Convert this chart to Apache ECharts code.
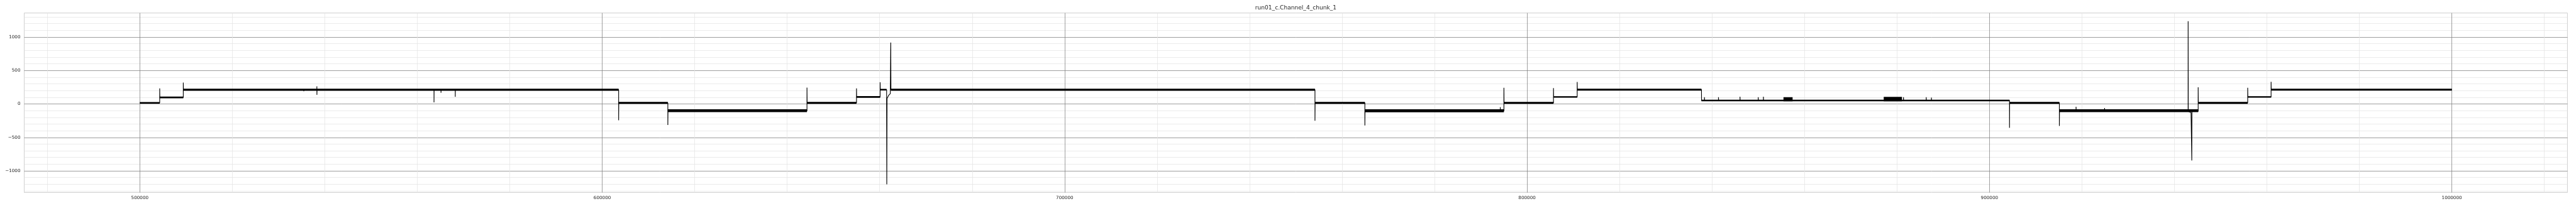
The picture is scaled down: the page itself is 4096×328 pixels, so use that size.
<!DOCTYPE html>
<html>
<head>
<meta charset="utf-8">
<script src="https://cdn.jsdelivr.net/npm/echarts@6.0.0/dist/echarts.min.js"></script>
<style>
  html, body { margin: 0; padding: 0; background: #ffffff; }
  #chart { width: 4096px; height: 328px; }
</style>
</head>
<body>
<div id="chart"></div>
<script>
// ---- data ----
const chartTitle = 'run01_c.Channel_4_chunk_1';

// axis extents (matplotlib 5% margins)
const xRange = [475000, 1025000];
const yRange = [-1324, 1360];

// signal trace: transitions and spikes (x = sample index, y = value)
const traceX = [
  500000, 504300, 504300, 504330, 509400, 509400, 509430,
  535460, 535460, 535480,
  538290, 538290, 538300, 538320,
  563620, 563620, 563640,
  565130, 565130, 565150,
  568220, 568220, 568240,
  603550, 603550, 603580,
  614190, 614190, 614220,
  644280, 644280, 644310,
  654990, 654990, 655020,
  660100, 660100, 660130,
  661500, 661540, 661600, 661950, 662300, 662400, 662440,
  754140, 754140, 754170,
  764930, 764930, 764960,
  794210, 794210, 794230,
  795000, 795000, 795030,
  805720, 805720, 805750,
  810850, 810850, 810880,
  837720, 837740,
  838370, 838370, 838400,
  841400, 841400, 841430,
  846060, 846060, 846090,
  850000, 850000, 850030,
  851120, 851120, 851150,
  881410, 881410, 881440,
  886330, 886330, 886360,
  887450, 887450, 887480,
  904340, 904340, 904370,
  915120, 915120, 915150,
  918730, 918730, 918760,
  924900, 924900, 924930,
  942970, 942970, 943000,
  943600, 943760, 943790,
  945140, 945140, 945170,
  955850, 955850, 955880,
  960910, 960910, 960940,
  1000000
];
const traceY = [
  16, 16, 232, 97, 97, 320, 212,
  212, 190, 212,
  212, 262, 136, 212,
  212, 24, 212,
  212, 167, 212,
  212, 107, 212,
  212, -245, 17,
  17, -314, -102,
  -102, 245, 17,
  17, 233, 105,
  105, 324, 214,
  214, -1202, 83, 130, 154, 919, 214,
  214, -250, 17,
  17, -321, -102,
  -102, -48, -102,
  -102, 243, 17,
  17, 238, 105,
  105, 329, 214,
  214, 52,
  52, 102, 52,
  52, 100, 52,
  52, 107, 52,
  52, 100, 52,
  52, 107, 52,
  52, 100, 52,
  52, 100, 52,
  52, 95, 52,
  52, -357, 17,
  17, -329, -102,
  -102, -43, -102,
  -102, -60, -102,
  -102, 1238, -110,
  -131, -845, -110,
  -110, 248, 17,
  17, 243, 105,
  105, 331, 214,
  214
];

// noise bands of each plateau: start, end, lowest and highest value of the noisy signal
const bandStart = [500000, 504300, 509400, 603550, 614190, 644280, 654990, 660100, 662400, 754140, 764930, 795000, 805720, 810850, 837720, 855460, 877140, 904340, 915120, 945140, 955850, 960910];
const bandEnd   = [504300, 509400, 603550, 614190, 644280, 654990, 660100, 661500, 754140, 764930, 795000, 805720, 810850, 837720, 904340, 857430, 881080, 915120, 945140, 955850, 960910, 1000000];
const bandLow   = [4, 84, 197, 2, -122, 3, 92, 202, 198, 2, -124, 3, 93, 200, 40, 40, 40, 3, -122, 3, 93, 200];
const bandHigh  = [28, 110, 227, 30, -80, 30, 118, 226, 229, 31, -79, 30, 116, 228, 64, 100, 106, 30, -80, 30, 116, 228];

// ---- build ----
const S = 0.758;
const tracePts = traceX.map((x, i) => [x, traceY[i]]);
const bandPts = bandStart.map((x, i) => [x, bandEnd[i], bandLow[i], bandHigh[i]]);

const fmt = v => (v < 0 ? '\u2212' + Math.abs(v) : String(v));
const textColor = '#262626';
const majorColor = '#808080';
const minorColor = '#e4e4e4';
const fontFamily = '"DejaVu Sans", sans-serif';

const gridLeft = 38.5, gridRight = 13.6, gridTop = 20.7, gridBottom = 21.5;

function axisCommon(extra) {
  return Object.assign({
    type: 'value',
    scale: false,
    splitNumber: 5,
    axisLine: { show: false },
    axisTick: { show: false },
    minorTick: { show: false, splitNumber: 5 },
    splitLine: { show: true, showMinLine: false, showMaxLine: false,
                 lineStyle: { color: majorColor, width: 1 * S } },
    minorSplitLine: { show: true, lineStyle: { color: minorColor, width: 1 * S } },
  }, extra);
}

const chart = echarts.init(document.getElementById('chart'), null, { renderer: 'canvas' });
chart.setOption({
  animation: false,
  backgroundColor: '#ffffff',
  graphic: [{
    type: 'text',
    x: (gridLeft + (4096 - gridRight)) / 2,
    y: 13.1,
    silent: true,
    style: {
      text: chartTitle,
      fill: textColor,
      font: (12 * S).toFixed(2) + 'px ' + fontFamily,
      textAlign: 'center', align: 'center',
      textVerticalAlign: 'middle', verticalAlign: 'middle'
    }
  }],
  grid: {
    left: gridLeft, right: gridRight, top: gridTop, bottom: gridBottom,
    containLabel: false,
    outerBoundsMode: 'none',
    show: true,
    backgroundColor: '#ffffff',
    borderColor: '#cccccc',
    borderWidth: 1.25 * S
  },
  xAxis: axisCommon({
    min: xRange[0], max: xRange[1],
    axisLabel: {
      show: true, showMinLabel: false, showMaxLabel: false,
      color: textColor, fontFamily: 'DejaVu Sans', fontSize: 9.5 * S,
      margin: 5, formatter: fmt
    }
  }),
  yAxis: axisCommon({
    min: yRange[0], max: yRange[1],
    axisLabel: {
      show: true, showMinLabel: false, showMaxLabel: false,
      color: textColor, fontFamily: 'DejaVu Sans', fontSize: 9.5 * S,
      margin: 6, formatter: fmt
    }
  }),
  series: [
    {
      type: 'custom',
      silent: true,
      clip: true,
      encode: { x: [0, 1], y: [2, 3] },
      data: bandPts,
      renderItem: function (params, api) {
        const p0 = api.coord([api.value(0), api.value(3)]);
        const p1 = api.coord([api.value(1), api.value(2)]);
        return {
          type: 'rect',
          shape: { x: p0[0], y: p0[1], width: p1[0] - p0[0], height: p1[1] - p0[1] },
          style: { fill: '#000000' }
        };
      },
      z: 3
    },
    {
      type: 'line',
      data: tracePts,
      showSymbol: false,
      symbol: 'none',
      silent: true,
      clip: true,
      lineStyle: { color: '#000000', width: 1.5 * S },
      z: 4
    }
  ]
});
</script>
</body>
</html>
